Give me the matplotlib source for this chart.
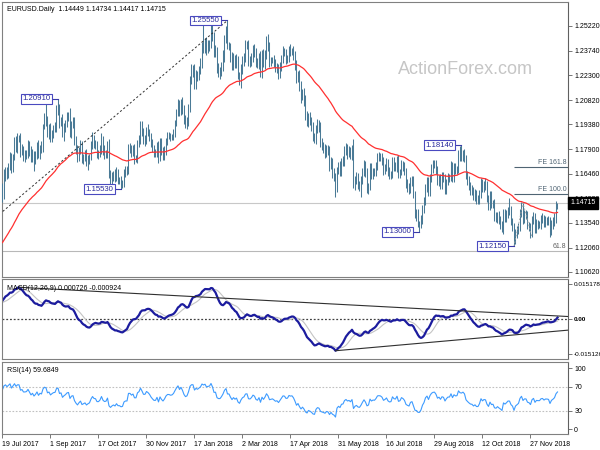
import numpy as np
import pandas as pd
import matplotlib
matplotlib.use('Agg')
import matplotlib.pyplot as plt
import matplotlib.transforms as mtrans

plt.rcParams['font.family'] = ['Liberation Sans', 'DejaVu Sans']

# EURUSD daily closes before the visible window (27 Mar - 18 Jul 2017), only used to warm up indicators
warmup_close = [
    1.0870, 1.0815, 1.0765, 1.0680, 1.0650,
    1.0665, 1.0665, 1.0665, 1.0645, 1.0640,
    1.0600, 1.0670, 1.0610, 1.0615, 1.0615,
    1.0645, 1.0730, 1.0715, 1.0715, 1.0725,
    1.0865, 1.0935, 1.0880, 1.0875, 1.0895,
    1.0905, 1.0930, 1.0885, 1.0980, 1.0995,
    1.0925, 1.0875, 1.0865, 1.0865, 1.0935,
    1.0980, 1.1090, 1.1160, 1.1100, 1.1210,
    1.1245, 1.1185, 1.1215, 1.1210, 1.1165,
    1.1165, 1.1185, 1.1245, 1.1215, 1.1280,
    1.1255, 1.1275, 1.1255, 1.1210, 1.1195,
    1.1205, 1.1210, 1.1220, 1.1150, 1.1195,
    1.1150, 1.1135, 1.1165, 1.1150, 1.1195,
    1.1180, 1.1335, 1.1375, 1.1440, 1.1425,
    1.1360, 1.1350, 1.1355, 1.1425, 1.1400,
    1.1400, 1.1460, 1.1410, 1.1400, 1.1470,
    1.1475, 1.1560,
]

# visible daily closes, 19 Jul 2017 - 21 Dec 2018 (one row per week)
close = [
    1.1515, 1.1630, 1.1665,
    1.1640, 1.1685, 1.1740, 1.1680, 1.1750,
    1.1840, 1.1800, 1.1860, 1.1860, 1.1775,
    1.1795, 1.1755, 1.1755, 1.1765, 1.1820,
    1.1780, 1.1735, 1.1770, 1.1725, 1.1760,
    1.1815, 1.1760, 1.1805, 1.1795, 1.1925,
    1.1980, 1.1970, 1.1890, 1.1910, 1.1860,
    1.1890, 1.1915, 1.1920, 1.2020, 1.2035,
    1.1950, 1.1965, 1.1885, 1.1920, 1.1945,
    1.1985, 1.1995, 1.1890, 1.1940, 1.1950,
    1.1850, 1.1790, 1.1745, 1.1785, 1.1815,
    1.1730, 1.1745, 1.1760, 1.1710, 1.1730,
    1.1745, 1.1810, 1.1860, 1.1825, 1.1820,
    1.1765, 1.1765, 1.1790, 1.1850, 1.1785,
    1.1760, 1.1765, 1.1815, 1.1650, 1.1605,
    1.1630, 1.1645, 1.1620, 1.1655, 1.1610,
    1.1610, 1.1585, 1.1590, 1.1650, 1.1665,
    1.1665, 1.1795, 1.1795, 1.1770, 1.1790,
    1.1735, 1.1735, 1.1825, 1.1850, 1.1935,
    1.1895, 1.1845, 1.1845, 1.1905, 1.1890,
    1.1865, 1.1825, 1.1795, 1.1770, 1.1770,
    1.1815, 1.1740, 1.1825, 1.1780, 1.1750,
    1.1785, 1.1840, 1.1870, 1.1870, 1.1860,
    1.1865, 1.1890, 1.1945, 1.2005,
    1.2060, 1.2015, 1.2070, 1.2030,
    1.1970, 1.1935, 1.1950, 1.2035, 1.2200,
    1.2265, 1.2265, 1.2180, 1.2235, 1.2220,
    1.2260, 1.2300, 1.2410, 1.2395, 1.2425,
    1.2385, 1.2405, 1.2415, 1.2510, 1.2460,
    1.2370, 1.2375, 1.2270, 1.2250, 1.2250,
    1.2290, 1.2350, 1.2450, 1.2505, 1.2405,
    1.2405, 1.2340, 1.2285, 1.2330, 1.2295,
    1.2320, 1.2230, 1.2195, 1.2265, 1.2315,
    1.2335, 1.2405, 1.2410, 1.2310, 1.2305,
    1.2335, 1.2390, 1.2370, 1.2305, 1.2290,
    1.2340, 1.2240, 1.2350, 1.2300, 1.2355,
    1.2445, 1.2400, 1.2305, 1.2315, 1.2325,
    1.2300, 1.2270, 1.2280, 1.2240, 1.2280,
    1.2320, 1.2370, 1.2365, 1.2325, 1.2330,
    1.2380, 1.2370, 1.2375, 1.2345, 1.2290,
    1.2210, 1.2235, 1.2165, 1.2105, 1.2130,
    1.2080, 1.1990, 1.1950, 1.1985, 1.1960,
    1.1925, 1.1865, 1.1850, 1.1915, 1.1940,
    1.1925, 1.1835, 1.1810, 1.1795, 1.1770,
    1.1790, 1.1780, 1.1695, 1.1720, 1.1655,
    1.1625, 1.1540, 1.1665, 1.1695, 1.1660,
    1.1715, 1.1720, 1.1780, 1.1800, 1.1770,
    1.1780, 1.1755, 1.1790, 1.1570, 1.1610,
    1.1625, 1.1580, 1.1570, 1.1605, 1.1655,
    1.1700, 1.1650, 1.1555, 1.1570, 1.1685,
    1.1640, 1.1660, 1.1655, 1.1690, 1.1745,
    1.1750, 1.1745, 1.1725, 1.1670, 1.1685,
    1.1710, 1.1660, 1.1640, 1.1645, 1.1720,
    1.1690, 1.1685, 1.1730, 1.1645, 1.1655,
    1.1705, 1.1690, 1.1660, 1.1585, 1.1565,
    1.1550, 1.1600, 1.1610, 1.1525, 1.1410,
    1.1405, 1.1345, 1.1345, 1.1375, 1.1440,
    1.1480, 1.1565, 1.1600, 1.1535, 1.1620,
    1.1675, 1.1700, 1.1705, 1.1670, 1.1600,
    1.1620, 1.1580, 1.1630, 1.1620, 1.1550,
    1.1595, 1.1625, 1.1625, 1.1690, 1.1625,
    1.1685, 1.1665, 1.1670, 1.1780, 1.1750,
    1.1745, 1.1765, 1.1740, 1.1640, 1.1605,
    1.1575, 1.1550, 1.1545, 1.1510, 1.1525,
    1.1490, 1.1490, 1.1525, 1.1595, 1.1560,
    1.1580, 1.1575, 1.1500, 1.1455, 1.1515,
    1.1465, 1.1470, 1.1390, 1.1380, 1.1400,
    1.1370, 1.1345, 1.1310, 1.1410, 1.1385,
    1.1405, 1.1430, 1.1430, 1.1365, 1.1335,
    1.1230, 1.1290, 1.1310, 1.1330, 1.1415,
    1.1455, 1.1375, 1.1405, 1.1405, 1.1340,
    1.1330, 1.1290, 1.1370, 1.1395, 1.1315,
    1.1350, 1.1345, 1.1345, 1.1375, 1.1380,
    1.1355, 1.1370, 1.1370, 1.1365, 1.1305,
    1.1345, 1.1360, 1.1380, 1.1440, 1.14715,
]

# pips above max(open, close) and below min(open, close)
wick_up = [
    30, 45, 22,
    18, 26, 34, 29, 15,
    21, 32, 24, 17, 27,
    26, 14, 31, 19, 28,
    17, 27, 24, 12, 23,
    19, 28, 13, 33, 16,
    24, 90, 18, 29, 36,
    17, 22, 31, 34, 56,
    23, 19, 36, 24, 18,
    26, 14, 40, 21, 30,
    32, 19, 24, 17, 28,
    22, 18, 27, 31, 26,
    19, 27, 32, 18, 23,
    21, 24, 28, 36, 22,
    31, 23, 26, 35, 18,
    24, 19, 29, 33, 17,
    18, 21, 16, 22, 27,
    24, 28, 31, 19, 26,
    29, 22, 18, 27, 21,
    26, 24, 31, 18, 36,
    23, 19, 27, 21, 24,
    18, 27, 32, 34, 23,
    26, 19, 22, 24, 17,
    14, 23, 18, 22,
    31, 24, 19, 28,
    22, 26, 31, 24, 27,
    33, 24, 31, 26, 22,
    24, 31, 16, 127, 27,
    32, 36, 24, 33, 28,
    26, 32, 23, 31, 29,
    21, 27, 18, 19, 50,
    24, 19, 27, 31, 22,
    36, 23, 19, 32, 26,
    27, 31, 24, 29, 33,
    26, 18, 24, 21, 27,
    23, 31, 28, 36, 24,
    19, 31, 26, 23, 14,
    24, 27, 22, 19, 26,
    27, 31, 23, 18, 21,
    26, 34, 19, 27, 31,
    29, 18, 26, 32, 21,
    24, 31, 26, 23, 29,
    19, 27, 24, 21, 31,
    26, 29, 22, 24, 27,
    23, 26, 31, 24, 19,
    27, 23, 21, 18, 26,
    24, 31, 27, 29, 21,
    31, 24, 26, 62, 23,
    29, 26, 22, 24, 27,
    26, 23, 31, 19, 22,
    24, 19, 21, 27, 23,
    26, 18, 24, 21, 19,
    27, 21, 23, 19, 26,
    24, 27, 19, 26, 21,
    21, 18, 24, 22, 27,
    23, 26, 19, 21, 18,
    24, 31, 19, 26, 22,
    27, 21, 24, 26, 23,
    26, 29, 21, 24, 19,
    19, 26, 24, 27, 23,
    21, 24, 19, 31, 26,
    24, 26, 23, 8, 27,
    64, 24, 26, 19, 23,
    26, 23, 29, 24, 27,
    23, 26, 24, 27, 21,
    24, 41, 26, 19, 27,
    26, 22, 24, 27, 19,
    23, 27, 18, 24, 26,
    24, 19, 70, 21, 18,
    19, 26, 24, 23, 21,
    24, 17, 26, 23, 19,
    21, 24, 27, 23, 19,
    26, 23, 19, 24, 31,
    23, 27, 21, 24, 26,
    24, 26, 33, 46, 2,
]

wick_dn = [
    36, 21, 28,
    24, 19, 16, 31, 23,
    22, 27, 33, 29, 31,
    19, 34, 42, 21, 26,
    28, 22, 19, 63, 24,
    26, 21, 29, 24, 18,
    16, 43, 27, 38, 29,
    24, 31, 22, 29, 26,
    31, 24, 19, 43, 28,
    21, 26, 24, 31, 23,
    34, 26, 29, 24, 21,
    19, 26, 23, 21, 42,
    26, 21, 18, 27, 29,
    24, 33, 21, 26, 31,
    27, 19, 24, 31, 28,
    21, 29, 26, 19, 24,
    24, 32, 26, 21, 23,
    29, 21, 24, 26, 19,
    31, 19, 24, 21, 26,
    24, 21, 33, 26, 23,
    26, 24, 21, 27, 23,
    24, 31, 19, 26, 24,
    21, 26, 24, 19, 22,
    16, 21, 24, 14,
    19, 26, 23, 31,
    31, 19, 26, 24, 21,
    24, 48, 31, 29, 26,
    21, 24, 26, 31, 34,
    36, 24, 31, 26, 29,
    31, 34, 26, 33, 41,
    24, 36, 43, 26, 21,
    26, 31, 24, 27, 23,
    24, 21, 26, 40, 29,
    31, 24, 19, 26, 29,
    21, 26, 31, 24, 19,
    24, 21, 26, 23, 31,
    26, 29, 24, 21, 14,
    19, 21, 26, 31, 24,
    26, 19, 24, 29, 23,
    24, 26, 21, 27, 31,
    26, 23, 31, 39, 24,
    31, 26, 24, 29, 23,
    29, 26, 24, 31, 26,
    31, 29, 26, 24, 31,
    26, 24, 36, 23, 34,
    24, 30, 5, 23, 27,
    26, 24, 27, 23, 36,
    24, 21, 26, 7, 24,
    26, 23, 27, 62, 19,
    24, 27, 26, 31, 23,
    29, 24, 21, 26, 23,
    26, 24, 27, 31, 24,
    23, 29, 26, 24, 27,
    26, 23, 27, 24, 26,
    19, 26, 24, 27, 31,
    24, 21, 26, 23, 27,
    40, 15, 45, 24, 26,
    26, 19, 27, 24, 23,
    24, 26, 23, 27, 24,
    26, 24, 27, 23, 26,
    24, 19, 26, 23, 27,
    26, 24, 23, 21, 27,
    24, 26, 23, 27, 24,
    26, 31, 24, 23, 26,
    24, 27, 23, 26, 24,
    26, 24, 23, 27, 24,
    23, 26, 27, 24, 26,
    24, 26, 8, 23, 27,
    26, 24, 31, 24, 29,
    15, 1, 24, 23, 27,
    24, 26, 23, 27, 21,
    27, 24, 23, 26, 24,
    24, 26, 23, 27, 24,
    26, 23, 27, 24, 36,
    24, 26, 23, 27, 4,
]

date_labels = ['19 Jul 2017', '1 Sep 2017', '17 Oct 2017', '30 Nov 2017', '17 Jan 2018',
               '2 Mar 2018', '17 Apr 2018', '31 May 2018', '16 Jul 2018', '29 Aug 2018',
               '12 Oct 2018', '27 Nov 2018']
bars_per_label = 32

price_ticks = [1.25220, 1.23740, 1.22300, 1.20820, 1.19380, 1.17900, 1.16460,
               1.14980, 1.13540, 1.12060, 1.10620]
macd_ticks = [0.015178, 0.0, -0.015126]
macd_tick_labels = ['0.015178', '0.00', '-0.015126']
rsi_ticks = [100, 70, 30, 0]

# swing highs/lows that carry a price box
swing_bars = [37, 79, 150, 278, 306, 341]
swing_text = ['1.20910', '1.15530', '1.25550', '1.13000', '1.18140', '1.12150']
swing_side = ['high', 'low', 'high', 'low', 'high', 'low']

# dashed trend line into the 1.2555 top
trend_x = [-2, 150]
trend_y = [1.1405, 1.2555]

# fibonacci: expansion A-B-C, and 61.8% retracement of 1.0340 -> 1.2555
fe_bars = [341, 347, 353]
fe_ratios = [1.0, 1.618]
fib_low = 1.0340

# MACD trend lines end values at the right edge
macd_upper_end = 0.0011
macd_lower_end = -0.0048

header = 'EURUSD.Daily  1.14449 1.14734 1.14417 1.14715'
macd_title = 'MACD(12,26,9) 0.000726 -0.000924'
rsi_title = 'RSI(14) 59.6849'

assert len(close) == len(wick_up) == len(wick_dn), (len(close), len(wick_up), len(wick_dn))

# ---- derived series
n0 = len(warmup_close)
allc = pd.Series(warmup_close + close)
c = np.array(close)
o = np.r_[warmup_close[-1], c[:-1]]
hi = np.maximum(o, c) + np.array(wick_up) / 1e4
lo = np.minimum(o, c) - np.array(wick_dn) / 1e4
x = np.arange(len(c))

ma = allc.ewm(span=55, adjust=False).mean().values[n0:]
macd_all = allc.ewm(span=12, adjust=False).mean() - allc.ewm(span=26, adjust=False).mean()
sig_all = macd_all.rolling(9).mean()
macd = macd_all.values[n0:]
sig = sig_all.values[n0:]
d = allc.diff()
gain = d.clip(lower=0).ewm(alpha=1 / 14, adjust=False).mean()
loss = (-d.clip(upper=0)).ewm(alpha=1 / 14, adjust=False).mean()
rsi = (100 - 100 / (1 + gain / loss)).values[n0:]

# ---- figure
W, H = 600, 450
fig = plt.figure(figsize=(6, 4.5), dpi=100, facecolor='white')
left, right = 2, 568
def axes_px(top, bottom):
    return fig.add_axes([left / W, 1 - bottom / H, (right - left) / W, (bottom - top) / H])

ax = axes_px(2, 277)
ax2 = axes_px(279, 359)
ax3 = axes_px(362, 434)

xmax = (right - 2.5) / 1.5
for a in (ax, ax2, ax3):
    a.set_xlim(-0.33, xmax)
    for s in a.spines.values():
        s.set_color('#808080')
        s.set_linewidth(0.8)
    a.spines['right'].set_color('#606060')
    a.yaxis.tick_right()
    a.tick_params(axis='y', direction='out', length=3, width=0.6, pad=1.5,
                  labelsize=5, colors='#606060', labelcolor='black')
    a.tick_params(axis='x', bottom=False, labelbottom=False)

# main price panel
ax.set_ylim(1.10323, 1.26644)
ax.set_yticks(price_ticks)
ax.set_yticklabels(['%.5f' % p for p in price_ticks])

fib_level = hi[150] - 0.618 * (hi[150] - fib_low)
ax.axhline(fib_level, color='#b8b8b8', lw=0.8, zorder=1)
ax.axhline(c[-1], color='#c8c8c8', lw=0.8, zorder=1)

ax.vlines(x, lo, hi, color='#4a7a96', lw=0.75, zorder=3)
ax.plot(x, ma, color='#ff3030', lw=0.9, zorder=4)
ax.plot(trend_x, trend_y, color='#303030', lw=0.7, dashes=(2.2, 2.2), zorder=5)

a_, b_, c_ = fe_bars
fe_pts = [lo[a_], hi[b_], lo[c_]]
ax.plot(fe_bars, fe_pts, color='#a0a0a0', lw=0.6, dashes=(2, 2), zorder=5)
for r in fe_ratios:
    lvl = fe_pts[2] + r * (fe_pts[1] - fe_pts[0])
    ax.hlines(lvl, a_, xmax, color='#4f6473', lw=0.8, zorder=2)
    ax.text(xmax - 1.2, lvl + 0.0006, 'FE %.1f' % (r * 100), ha='right', va='bottom',
            fontsize=5, color='#4f6473')
ax.text(xmax - 1.2, fib_level + 0.0006, '61.8', ha='right', va='bottom', fontsize=5,
        color='#606060')

for b, txt, side in zip(swing_bars, swing_text, swing_side):
    yv = hi[b] if side == 'high' else lo[b]
    ax.plot([b - 5.0, b], [yv, yv], color='#3a3aa8', lw=0.8, zorder=6)
    ax.text(b - 5.2, yv, txt, ha='right', va='center', fontsize=5.6, color='#2a2a9c', zorder=7,
            bbox=dict(boxstyle='square,pad=0.18', fc='white', ec='#4a4ac0', lw=0.8))

ax.text(0.008, 0.985, header, transform=ax.transAxes, ha='left', va='top', fontsize=5,
        color='black')
fig.text(465 / W, 1 - 69 / H, 'ActionForex.com', ha='center', va='center', fontsize=13,
         color='#c6c6c6')

tag = mtrans.blended_transform_factory(ax.transAxes, ax.transData)
ax.text(1.004, c[-1], '%.5f' % c[-1], transform=tag, ha='left', va='center', fontsize=5,
        color='white', clip_on=False, zorder=10,
        bbox=dict(boxstyle='square,pad=0.35', fc='black', ec='black'))

# MACD panel
ax2.set_ylim(-0.017290, 0.017342)
ax2.set_yticks(macd_ticks)
ax2.set_yticklabels(macd_tick_labels)
ax2.tick_params(axis='y', labelsize=4.6, pad=1)
ax2.get_yticklabels()[1].set_fontweight('bold')
ax2.axhline(0, color='#404040', lw=0.9, dashes=(1.5, 1.5))
ax2.plot(x, sig, color='#c4c4c4', lw=0.8)
ax2.plot(x, macd, color='#1c1c9e', lw=1.6)
ip = int(np.argmax(macd))
im = int(np.argmin(macd))
ax2.plot([ip, xmax], [macd[ip], macd_upper_end], color='#303030', lw=0.8)
ax2.plot([im, xmax], [macd[im], macd_lower_end], color='#303030', lw=0.8)
ax2.text(0.008, 0.93, macd_title, transform=ax2.transAxes, ha='left', va='top', fontsize=5)

# RSI panel
ax3.set_ylim(-8.2, 110.4)
ax3.set_yticks(rsi_ticks)
ax3.set_yticklabels([str(t) for t in rsi_ticks])
for lvl in (70, 30):
    ax3.axhline(lvl, color='#c0c0c0', lw=0.8, dashes=(1.5, 1.5))
ax3.plot(x, rsi, color='#3d9bff', lw=0.8)
ax3.text(0.008, 0.93, rsi_title, transform=ax3.transAxes, ha='left', va='top', fontsize=5)

ax3.tick_params(axis='x', bottom=True, labelbottom=True, direction='out', length=3, width=0.6,
                labelsize=5, pad=2, colors='#606060', labelcolor='black')
ax3.set_xticks([i * bars_per_label for i in range(len(date_labels))])
ax3.set_xticklabels(date_labels, ha='left')

fig.savefig('out.png', dpi=100, facecolor='white')
